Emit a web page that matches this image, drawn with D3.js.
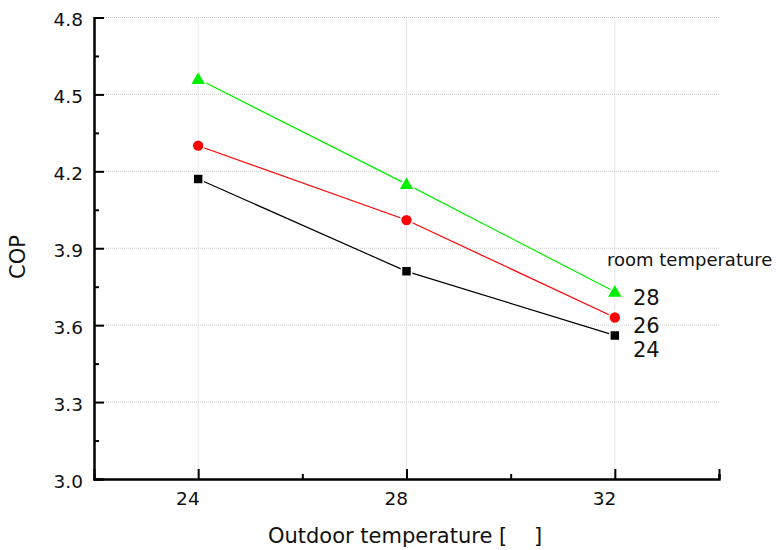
<!DOCTYPE html>
<html>
<head>
<meta charset="utf-8">
<script src="https://cdn.jsdelivr.net/npm/d3@7"></script>
<style>
  body { margin: 0; background: #fff; }
  svg { font-family: "DejaVu Sans", Arial, sans-serif; }
</style>
</head>
<body>
<div id="chart"></div>
<script>
// Outdoor temperature categories and COP per room temperature
const outdoor = [24, 28, 32];
const cop24 = [4.17, 3.81, 3.56];
const cop26 = [4.30, 4.01, 3.63];
const cop28 = [4.56, 4.15, 3.73];
const roomLabels = ['24', '26', '28'];
const yTicks = [3.0, 3.3, 3.6, 3.9, 4.2, 4.5, 4.8];
const yMinor = [3.15, 3.45, 3.75, 4.05, 4.35, 4.65];
const xTicks = [24, 28, 32];
const xMinor = [26, 30, 34];

const W = 776, H = 550;
const svg = d3.select('#chart').append('svg').attr('width', W).attr('height', H);

const x = d3.scaleLinear().domain([22, 34]).range([94, 719]);
const y = d3.scaleLinear().domain([3.0, 4.8]).range([479, 17.5]);

// grid
svg.append('g').selectAll('line').data(yTicks.slice(1)).enter().append('line')
  .attr('x1', x(22)).attr('x2', x(34))
  .attr('y1', d => y(d)).attr('y2', d => y(d))
  .attr('stroke', '#cfcfcf').attr('stroke-dasharray', '1,1');
svg.append('g').selectAll('line').data(xTicks).enter().append('line')
  .attr('x1', d => x(d)).attr('x2', d => x(d))
  .attr('y1', y(4.8)).attr('y2', y(3.0))
  .attr('stroke', '#cfcfcf').attr('stroke-dasharray', '1,1');

// axes with inward ticks
const yAxis = svg.append('g').attr('transform', `translate(${x(22)},0)`)
  .call(d3.axisLeft(y).tickValues(yTicks).tickSize(-10).tickPadding(11).tickFormat(d3.format('.1f')));
svg.append('g').attr('transform', `translate(${x(22)},0)`)
  .call(d3.axisLeft(y).tickValues(yMinor).tickSize(-5).tickFormat(''));
const xAxis = svg.append('g').attr('transform', `translate(0,${y(3.0)})`)
  .call(d3.axisBottom(x).tickValues(xTicks).tickSize(-10).tickPadding(13).tickFormat(d3.format('d')));
svg.append('g').attr('transform', `translate(0,${y(3.0)})`)
  .call(d3.axisBottom(x).tickValues(xMinor).tickSize(-5).tickFormat(''));

svg.selectAll('.domain').attr('stroke', '#000').attr('stroke-width', 2);
svg.selectAll('.tick line').attr('stroke', '#000').attr('stroke-width', 2);
svg.selectAll('.tick text').attr('font-size', 18.5).attr('fill', '#111')
  .attr('font-family', '"DejaVu Sans", Arial, sans-serif');
yAxis.selectAll('.tick text').attr('dy', '0.45em');
xAxis.selectAll('.tick text').attr('text-anchor', 'end').attr('x', 1);

// series
const series = [
  { vals: cop24, color: '#000000', shape: d3.symbolSquare, size: 100 },
  { vals: cop26, color: '#ff0000', shape: d3.symbolCircle, size: 110 },
  { vals: cop28, color: '#00ee00', shape: d3.symbolTriangle, size: 110 }
];
const line = d3.line().x((d, i) => x(outdoor[i])).y(d => y(d));
series.forEach(s => {
  svg.append('path').datum(s.vals).attr('d', line)
    .attr('fill', 'none').attr('stroke', s.color).attr('stroke-width', 1.2);
  svg.append('g').selectAll('path').data(s.vals).enter().append('path')
    .attr('d', d3.symbol().type(s.shape).size(s.size))
    .attr('transform', (d, i) => `translate(${x(outdoor[i])},${y(d) + (s.shape === d3.symbolTriangle ? 1 : 0)})`)
    .attr('fill', s.color).attr('stroke', '#fff').attr('stroke-width', 1.5);
});

// end labels
svg.append('text').attr('x', 607).attr('y', 266).attr('font-size', 18).attr('fill', '#111')
  .text('room temperature');
const labelY = [357, 333, 305];
roomLabels.forEach((t, i) => {
  svg.append('text').attr('x', 633).attr('y', labelY[i]).attr('font-size', 21).attr('fill', '#111').text(t);
});

// axis titles
svg.append('text').attr('x', 405).attr('y', 543).attr('text-anchor', 'middle')
  .attr('font-size', 21).attr('fill', '#111')
  .style('white-space', 'pre')
  .text('Outdoor temperature [    ]');
svg.append('text').attr('transform', 'translate(25,257) rotate(-90)')
  .attr('text-anchor', 'middle').attr('font-size', 21).attr('fill', '#111').text('COP');
</script>
</body>
</html>
